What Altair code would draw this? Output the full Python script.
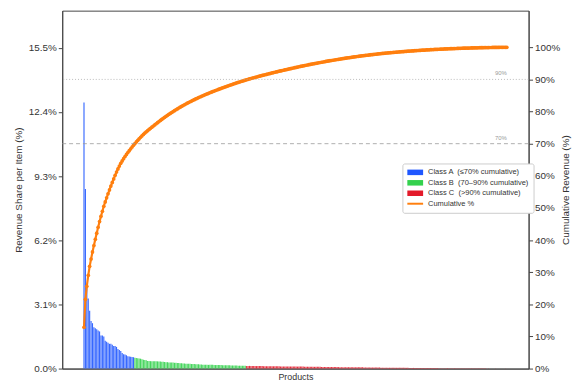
import altair as alt
import pandas as pd

class_names = ["Class A \u00a0(\u226470% cumulative)", "Class B \u00a0(70\u201390% cumulative)", "Class C \u00a0(>90% cumulative)"]
line_name = "Cumulative %"
class_colors = ["#1f57ff", "#33d14d", "#e31a2a"]
line_color = "#ff7f0e"

share_a = [12.9, 8.7, 4.1, 3.4, 2.8, 2.3, 2.2, 2.0, 1.95, 1.9, 1.85, 1.8,
           1.6, 1.6, 1.55, 1.35, 1.3, 1.25, 1.2, 1.2, 1.15, 1.1, 1.1, 1.05,
           0.95, 0.9, 0.85, 0.75, 0.7, 0.68, 0.65, 0.6, 0.58, 0.57, 0.56, 0.55]
share_b = [0.52, 0.51, 0.50, 0.49, 0.48, 0.45, 0.43, 0.41, 0.40,
           0.37, 0.37, 0.36, 0.36, 0.36, 0.35, 0.35, 0.35, 0.34, 0.34, 0.33, 0.33,
           0.32, 0.31, 0.31, 0.30, 0.30, 0.29, 0.29, 0.28, 0.28,
           0.27, 0.27, 0.26, 0.26, 0.25, 0.25, 0.24, 0.24,
           0.23, 0.23, 0.22, 0.22, 0.22, 0.21, 0.21, 0.21, 0.20, 0.20,
           0.19, 0.19, 0.19, 0.18, 0.18, 0.18, 0.18, 0.18, 0.17, 0.17, 0.17,
           0.17, 0.17, 0.17, 0.16, 0.16, 0.16, 0.16, 0.16, 0.16, 0.15, 0.15,
           0.15, 0.15, 0.15, 0.14, 0.14, 0.14, 0.14, 0.14, 0.14]
share_c = [0.13, 0.13, 0.13, 0.13, 0.12, 0.12, 0.12, 0.12, 0.12, 0.12, 0.12, 0.12,
           0.11, 0.11, 0.11, 0.11, 0.11, 0.11, 0.11, 0.11, 0.11, 0.11, 0.11, 0.11,
           0.10, 0.10, 0.10, 0.10, 0.10, 0.10, 0.10, 0.10, 0.10, 0.10, 0.10,
           0.095, 0.095, 0.095, 0.095, 0.095, 0.095, 0.09, 0.09, 0.09, 0.09, 0.09, 0.09,
           0.085, 0.085, 0.085, 0.085, 0.085, 0.085, 0.08, 0.08, 0.08, 0.08, 0.08, 0.08,
           0.075, 0.075, 0.075, 0.075, 0.075, 0.075, 0.07, 0.07, 0.07, 0.07, 0.07, 0.07,
           0.065, 0.065, 0.065, 0.065, 0.065, 0.065, 0.06, 0.06, 0.06, 0.06, 0.06, 0.06,
           0.055, 0.055, 0.055, 0.055, 0.055, 0.055, 0.05, 0.05, 0.05, 0.05, 0.05, 0.05,
           0.045, 0.045, 0.045, 0.045, 0.045, 0.04, 0.04, 0.04, 0.04, 0.04,
           0.038, 0.038, 0.038, 0.038, 0.038, 0.035, 0.035, 0.035, 0.035, 0.035,
           0.032, 0.032, 0.032, 0.032, 0.032, 0.03, 0.03, 0.03, 0.03, 0.03,
           0.027, 0.027, 0.027, 0.027, 0.027, 0.025, 0.025, 0.025, 0.025, 0.025,
           0.022, 0.022, 0.022, 0.022, 0.022, 0.02, 0.02, 0.02, 0.02, 0.02,
           0.018, 0.018, 0.018, 0.018, 0.018, 0.016, 0.016, 0.016, 0.016, 0.016,
           0.014, 0.014, 0.014, 0.014, 0.014, 0.012, 0.012, 0.012, 0.012, 0.012,
           0.010, 0.010, 0.010, 0.010, 0.010, 0.008, 0.008, 0.008, 0.008, 0.008,
           0.006, 0.006, 0.006, 0.006, 0.006, 0.005, 0.005, 0.005, 0.005, 0.005]

left_ticks = [0.0, 3.1, 6.2, 9.3, 12.4, 15.5]
right_ticks = [0, 10, 20, 30, 40, 50, 60, 70, 80, 90, 100]
thresholds = [70, 90]
threshold_labels = ["70%", "90%"]

values = share_a + share_b + share_c
total = sum(values)
n = len(values)
rows = []
cum = 0.0
for i, v in enumerate(values):
    s = v / total * 100
    cum += s
    if i < len(share_a):
        cls = class_names[0]
    elif i < len(share_a) + len(share_b):
        cls = class_names[1]
    else:
        cls = class_names[2]
    rows.append({"idx": i, "lo": i - 0.4, "hi": i + 0.4, "share": s, "cum": cum, "cls": cls})
df = pd.DataFrame(rows)
thr_df = pd.DataFrame({"t": thresholds, "lab": threshold_labels})
legend_names = class_names + [line_name]
leg_df = pd.DataFrame({"cls": legend_names})

x_dom = [-0.4 - 0.05 * (n - 0.2), n - 1 + 0.4 + 0.05 * (n - 0.2)]
x_scale = alt.Scale(domain=x_dom, nice=False, zero=False)
left_scale = alt.Scale(domain=[0, 17.3], nice=False)
right_scale = alt.Scale(domain=[0, 111.4], nice=False)

color_scale = alt.Scale(domain=legend_names, range=class_colors + [line_color])
rect_path = "M-1,-0.7H3V0.7H-1Z"
thin_path = "M-1,-0.25H3V0.25H-1Z"
shape_scale = alt.Scale(domain=legend_names, range=[rect_path, rect_path, rect_path, thin_path])

def make_legend():
    return alt.Legend(
        title=None, orient="none", legendX=345, legendY=155,
        symbolSize=64, symbolOpacity=1, symbolStrokeWidth=0,
        labelFontSize=7.6, labelColor="#333333", labelOffset=13,
        rowPadding=2.6, padding=5, strokeColor="#cccccc", fillColor="white",
        cornerRadius=2)

def right_axis():
    return alt.Axis(orient="right", values=right_ticks, grid=False,
                    labelExpr="datum.value + '%'",
                    title="Cumulative Revenue (%)", titleAngle=270,
                    titleBaseline="middle", titleAlign="center",
                    titleX=37, titleY=181.5, titleFontSize=10)

x_axis = alt.Axis(title="Products", labels=False, ticks=False, grid=False,
                  titlePadding=4, titleFontSize=9)

bars = alt.Chart(df).mark_rect(opacity=0.9).encode(
    x=alt.X("lo:Q", scale=x_scale, axis=x_axis),
    x2="hi:Q",
    y=alt.Y("share:Q", scale=left_scale,
            axis=alt.Axis(orient="left", values=left_ticks, grid=False,
                          labelExpr="format(datum.value, '.1f') + '%'",
                          title="Revenue Share per Item (%)", titleFontSize=10,
                          titlePadding=5)),
    y2=alt.datum(0),
    color=alt.Color("cls:N", scale=color_scale, legend=make_legend()),
)

line = alt.Chart(df).mark_line(
    strokeWidth=2.2, color=line_color,
    point=alt.OverlayMarkDef(size=14, filled=True, color=line_color),
).encode(
    x=alt.X("idx:Q", scale=x_scale, axis=x_axis),
    y=alt.Y("cum:Q", scale=right_scale, axis=right_axis()),
)

legend_layer = alt.Chart(leg_df).mark_point(filled=True, opacity=0).encode(
    x=alt.datum(0, scale=x_scale, axis=x_axis),
    y=alt.datum(0, scale=right_scale, axis=right_axis()),
    color=alt.Color("cls:N", scale=color_scale, legend=make_legend()),
    shape=alt.Shape("cls:N", scale=shape_scale, legend=make_legend()),
)

rule70 = alt.Chart(thr_df).transform_filter(f"datum.t == {thresholds[0]}").mark_rule(
    color="#999999", strokeWidth=0.8, strokeDash=[4, 3]
).encode(y=alt.Y("t:Q", scale=right_scale, axis=right_axis()))

rule90 = alt.Chart(thr_df).transform_filter(f"datum.t == {thresholds[1]}").mark_rule(
    color="#aaaaaa", strokeWidth=0.8, strokeDash=[1, 2]
).encode(y=alt.Y("t:Q", scale=right_scale, axis=right_axis()))

texts = alt.Chart(thr_df).mark_text(
    align="right", baseline="bottom", dy=-3, fontSize=6, color="#999999"
).encode(
    x=alt.datum(n - 1, scale=x_scale, axis=x_axis),
    y=alt.Y("t:Q", scale=right_scale, axis=right_axis()),
    text="lab:N",
)

inner = alt.layer(line, rule70, rule90, texts, legend_layer)

chart = alt.layer(bars, inner).resolve_scale(y="independent").properties(
    width=473, height=363,
    autosize=alt.AutoSizeParams(type="none"),
    padding={"left": 55, "top": 0, "right": 44, "bottom": 17},
).configure(font="Liberation Sans").configure_view(
    stroke="#444444", strokeWidth=1
).configure_axis(
    labelFontSize=10, labelColor="#333333", titleColor="#333333",
    titleFontWeight="normal", tickColor="#444444", domainColor="#444444",
    tickSize=4, labelPadding=2,
)

chart.save("out.html", embed_options={"renderer": "svg", "actions": False})
